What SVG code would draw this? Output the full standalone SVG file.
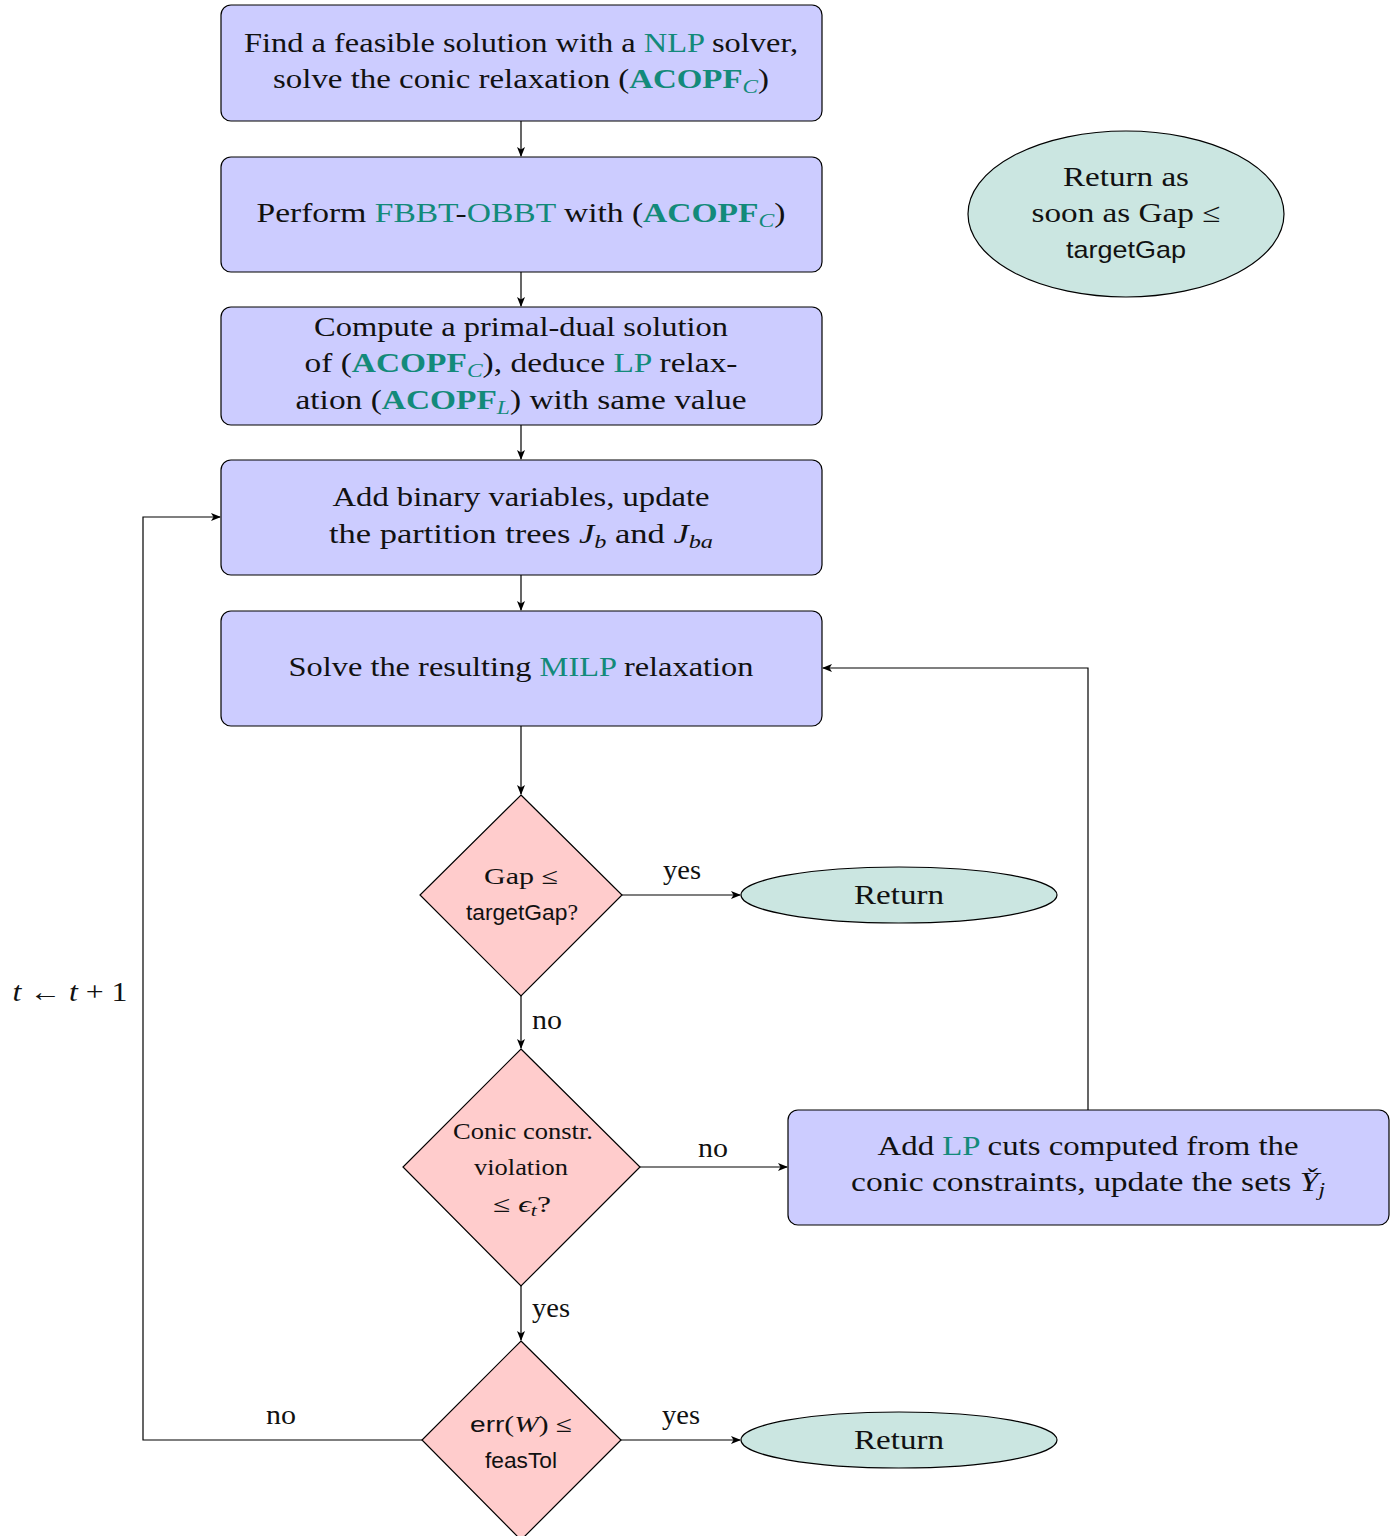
<svg xmlns="http://www.w3.org/2000/svg" width="1395" height="1536" viewBox="0 0 1395 1536">
<defs>
<marker id="arr" markerWidth="10" markerHeight="8" refX="9" refY="4" orient="auto" markerUnits="userSpaceOnUse">
<path d="M0,0 L10,4 L0,8 L2.5,4 Z" fill="#000"/>
</marker>
</defs>
<style>
.box{fill:#ccccff;stroke:#000;stroke-width:1.2}
.dia{fill:#ffcccc;stroke:#000;stroke-width:1.2}
.ell{fill:#cbe6e1;stroke:#000;stroke-width:1.2}
.t{font-family:"Liberation Serif","DejaVu Serif",serif;font-size:27px;fill:#111;text-anchor:middle}
.ts{font-size:23px}
.s{font-family:"Liberation Sans","DejaVu Sans",sans-serif}
.tl{fill:#138a7a}
.b{font-weight:bold}
.i{font-style:italic}
.c{fill:none;stroke:#000;stroke-width:1.2}
</style>
<rect width="1395" height="1536" fill="#fff"/>
<g id="connectors">
<line class="c" x1="521" y1="121" x2="521" y2="156" marker-end="url(#arr)"/>
<line class="c" x1="521" y1="272" x2="521" y2="306" marker-end="url(#arr)"/>
<line class="c" x1="521" y1="425" x2="521" y2="459" marker-end="url(#arr)"/>
<line class="c" x1="521" y1="575" x2="521" y2="610" marker-end="url(#arr)"/>
<line class="c" x1="521" y1="726" x2="521" y2="794" marker-end="url(#arr)"/>
<line class="c" x1="622" y1="895" x2="740" y2="895" marker-end="url(#arr)"/>
<line class="c" x1="521" y1="996" x2="521" y2="1048" marker-end="url(#arr)"/>
<line class="c" x1="640" y1="1167" x2="787" y2="1167" marker-end="url(#arr)"/>
<line class="c" x1="521" y1="1286" x2="521" y2="1340" marker-end="url(#arr)"/>
<line class="c" x1="621" y1="1440" x2="740" y2="1440" marker-end="url(#arr)"/>
<polyline class="c" points="1088,1110 1088,668 823,668" marker-end="url(#arr)"/>
<polyline class="c" points="422,1440 143,1440 143,517 220,517" marker-end="url(#arr)"/>
<text class="t" x="682" y="879" textLength="38" lengthAdjust="spacingAndGlyphs">yes</text>
<text class="t" x="547" y="1029" textLength="30" lengthAdjust="spacingAndGlyphs">no</text>
<text class="t" x="713" y="1157" textLength="30" lengthAdjust="spacingAndGlyphs">no</text>
<text class="t" x="551" y="1317" textLength="38" lengthAdjust="spacingAndGlyphs">yes</text>
<text class="t" x="281" y="1424" textLength="30" lengthAdjust="spacingAndGlyphs">no</text>
<text class="t" x="681" y="1424" textLength="38" lengthAdjust="spacingAndGlyphs">yes</text>
<text class="t" x="70" y="1001" textLength="115" lengthAdjust="spacingAndGlyphs"><tspan class="i">t</tspan> ← <tspan class="i">t</tspan> + 1</text>
</g>
<g id="n1">
<rect class="box" x="221" y="5" width="601" height="116" rx="10"/>
<text class="t" x="521" y="52" textLength="554" lengthAdjust="spacingAndGlyphs">Find a feasible solution with a <tspan class="tl">NLP</tspan> solver,</text>
<text class="t" x="521" y="88" textLength="496" lengthAdjust="spacingAndGlyphs">solve the conic relaxation (<tspan class="tl b">ACOPF</tspan><tspan class="tl i" font-size="19" dy="5">C</tspan><tspan dy="-5">)</tspan></text>
</g>
<g id="n2">
<rect class="box" x="221" y="157" width="601" height="115" rx="10"/>
<text class="t" x="521" y="222" textLength="529" lengthAdjust="spacingAndGlyphs">Perform <tspan class="tl">FBBT</tspan>-<tspan class="tl">OBBT</tspan> with (<tspan class="tl b">ACOPF</tspan><tspan class="tl i" font-size="19" dy="5">C</tspan><tspan dy="-5">)</tspan></text>
</g>
<g id="n3">
<rect class="box" x="221" y="307" width="601" height="118" rx="10"/>
<text class="t" x="521" y="336" textLength="414" lengthAdjust="spacingAndGlyphs">Compute a primal-dual solution</text>
<text class="t" x="521" y="372" textLength="433" lengthAdjust="spacingAndGlyphs">of (<tspan class="tl b">ACOPF</tspan><tspan class="tl i" font-size="19" dy="5">C</tspan><tspan dy="-5">), deduce </tspan><tspan class="tl">LP</tspan> relax-</text>
<text class="t" x="521" y="409" textLength="451" lengthAdjust="spacingAndGlyphs">ation (<tspan class="tl b">ACOPF</tspan><tspan class="tl i" font-size="19" dy="5">L</tspan><tspan dy="-5">) with same value</tspan></text>
</g>
<g id="n4">
<rect class="box" x="221" y="460" width="601" height="115" rx="10"/>
<text class="t" x="521" y="506" textLength="377" lengthAdjust="spacingAndGlyphs">Add binary variables, update</text>
<text class="t" x="521" y="543" textLength="384" lengthAdjust="spacingAndGlyphs">the partition trees <tspan class="i">J</tspan><tspan class="i" font-size="19" dy="5">b</tspan><tspan dy="-5"> and </tspan><tspan class="i">J</tspan><tspan class="i" font-size="19" dy="5">ba</tspan></text>
</g>
<g id="n5">
<rect class="box" x="221" y="611" width="601" height="115" rx="10"/>
<text class="t" x="521" y="676" textLength="465" lengthAdjust="spacingAndGlyphs">Solve the resulting <tspan class="tl">MILP</tspan> relaxation</text>
</g>
<g id="n6">
<polygon class="dia" points="521,795 622,895 521,996 420,895"/>
<text class="t ts" x="521" y="884" textLength="74" lengthAdjust="spacingAndGlyphs">Gap ≤</text>
<text class="t ts" x="522" y="920" textLength="112" lengthAdjust="spacingAndGlyphs"><tspan class="s" font-size="22">targetGap</tspan>?</text>
</g>
<g id="n7">
<polygon class="dia" points="521,1049 640,1167 521,1286 403,1167"/>
<text class="t ts" x="523" y="1139" textLength="140" lengthAdjust="spacingAndGlyphs">Conic constr.</text>
<text class="t ts" x="521" y="1175" textLength="94" lengthAdjust="spacingAndGlyphs">violation</text>
<text class="t ts" x="522" y="1212" textLength="58" lengthAdjust="spacingAndGlyphs">≤ <tspan class="i">ϵ</tspan><tspan class="i" font-size="16" dy="4">t</tspan><tspan dy="-4">?</tspan></text>
</g>
<g id="n8">
<polygon class="dia" points="521,1341 621,1440 521,1540 422,1440"/>
<text class="t ts" x="521" y="1432" textLength="102" lengthAdjust="spacingAndGlyphs"><tspan class="s" font-size="22">err</tspan>(<tspan class="i">W</tspan>) ≤</text>
<text class="t ts" x="521" y="1468" textLength="72" lengthAdjust="spacingAndGlyphs"><tspan class="s" font-size="22">feasTol</tspan></text>
</g>
<g id="n9">
<ellipse class="ell" cx="899" cy="895" rx="158" ry="28"/>
<text class="t" x="899" y="904" textLength="90" lengthAdjust="spacingAndGlyphs">Return</text>
</g>
<g id="n10">
<ellipse class="ell" cx="899" cy="1440" rx="158" ry="28"/>
<text class="t" x="899" y="1449" textLength="90" lengthAdjust="spacingAndGlyphs">Return</text>
</g>
<g id="n11">
<rect class="box" x="788" y="1110" width="601" height="115" rx="10"/>
<text class="t" x="1088" y="1155" textLength="421" lengthAdjust="spacingAndGlyphs">Add <tspan class="tl">LP</tspan> cuts computed from the</text>
<text class="t" x="1088" y="1191" textLength="474" lengthAdjust="spacingAndGlyphs">conic constraints, update the sets <tspan class="i">Y̌</tspan><tspan class="i" font-size="19" dy="5">j</tspan></text>
</g>
<g id="n12">
<ellipse class="ell" cx="1126" cy="214" rx="158" ry="83"/>
<text class="t" x="1126" y="186" textLength="126" lengthAdjust="spacingAndGlyphs">Return as</text>
<text class="t" x="1126" y="222" textLength="189" lengthAdjust="spacingAndGlyphs">soon as Gap ≤</text>
<text class="t" x="1126" y="258" textLength="120" lengthAdjust="spacingAndGlyphs"><tspan class="s" font-size="24">targetGap</tspan></text>
</g>
</svg>
